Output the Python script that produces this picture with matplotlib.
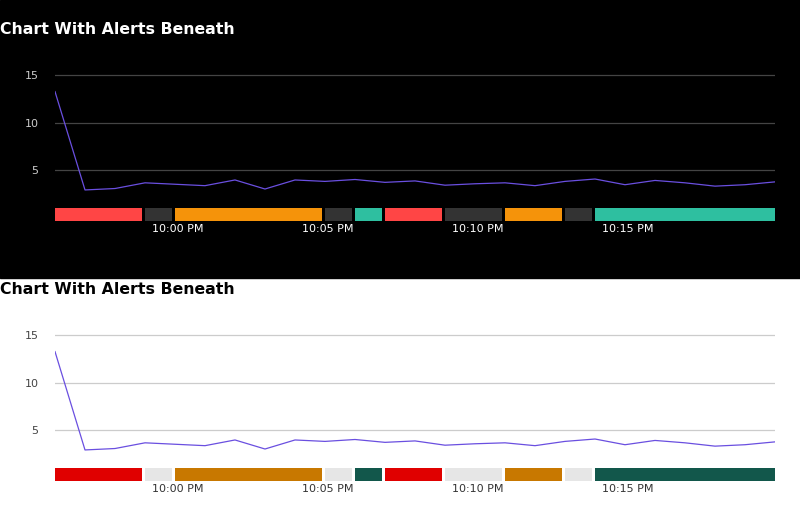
import matplotlib
matplotlib.use("Agg")
import matplotlib.pyplot as plt
from matplotlib.patches import Rectangle
import numpy as np

minutes = list(range(25))  # minutes after 9:56 PM
values = [13.3, 2.95, 3.1, 3.7, 3.55, 3.4, 4.0, 3.05, 4.0, 3.85, 4.05, 3.75, 3.9,
          3.45, 3.6, 3.7, 3.4, 3.85, 4.1, 3.5, 3.95, 3.7, 3.35, 3.5, 3.8]
alert_start = [0, 3, 4, 9, 10, 11, 13, 15, 17, 18]
alert_end = [3, 4, 9, 10, 11, 13, 15, 17, 18, 24]
alert_level = ["crit", "none", "warn", "none", "ok", "crit", "none", "warn", "none", "ok"]
tick_pos = [4.1, 9.1, 14.1, 19.1]
tick_labels = ["10:00 PM", "10:05 PM", "10:10 PM", "10:15 PM"]

themes = [
    dict(bg="black", fg="white", grid="#444444", tick="#cccccc", line="#6a4fe0",
         colors={"crit": "#ff4545", "none": "#333333", "warn": "#f5930a", "ok": "#2ebfa0"}),
    dict(bg="white", fg="black", grid="#cccccc", tick="#444444", line="#6a4fe0",
         colors={"crit": "#e00000", "none": "#e6e6e6", "warn": "#c87800", "ok": "#12574b"}),
]

W, H = 800, 519
fig = plt.figure(figsize=(8, 5.19), dpi=100, facecolor="white")
fig.patches.append(Rectangle((0, 1 - 278 / H), 1, 278 / H, transform=fig.transFigure,
                             color="black", zorder=-10))

def ax_px(x0, y0, x1, y1):
    return fig.add_axes([x0 / W, 1 - y1 / H, (x1 - x0) / W, (y1 - y0) / H])

for i, t in enumerate(themes):
    off = 260 * i
    fig.text(0, 1 - (30 + off) / H, "Chart With Alerts Beneath", color=t["fg"],
             fontsize=11.3, fontweight="bold", va="center", ha="left")
    ax = ax_px(55, 65 + off, 775, 208 + off)
    ax.set_facecolor("none")
    ax.plot(minutes, values, color=t["line"], lw=0.9)
    ax.set_xlim(0, 24)
    ax.set_ylim(1.05, 16.1)
    ax.set_yticks([5, 10, 15])
    ax.yaxis.grid(True, color=t["grid"], lw=0.9)
    ax.set_axisbelow(True)
    for s in ax.spines.values():
        s.set_visible(False)
    ax.tick_params(axis="y", length=0, pad=12, colors=t["tick"], labelsize=8)
    ax.tick_params(axis="x", bottom=False, labelbottom=False)

    bx = ax_px(55, 208 + off, 775, 221 + off)
    bx.set_facecolor("none")
    for s0, s1, lv in zip(alert_start, alert_end, alert_level):
        w = (s1 - s0) - (0.1 if s1 < 24 else 0)
        bx.barh(0, w, left=s0, height=1, color=t["colors"][lv], linewidth=0)
    bx.set_xlim(0, 24)
    bx.set_ylim(-0.5, 0.5)
    for s in bx.spines.values():
        s.set_visible(False)
    bx.set_yticks([])
    bx.set_xticks(tick_pos)
    bx.set_xticklabels(tick_labels)
    bx.tick_params(axis="x", length=0, pad=2, colors=t["fg"] if i == 0 else "#333333",
                   labelsize=8)

fig.savefig("out.png", dpi=100, facecolor=fig.get_facecolor())
